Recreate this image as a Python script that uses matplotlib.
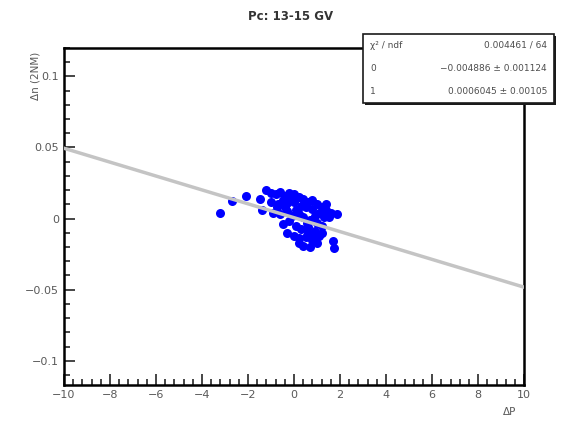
"""Pc 13-15 GV: delta n vs delta P with linear fit (ROOT-style panel)."""
import matplotlib.pyplot as plt
import numpy as np
from matplotlib.patches import Rectangle
from matplotlib.ticker import MultipleLocator

plt.rcParams.update({"font.family": "DejaVu Sans", "font.size": 8})

# data points
dp = [-1.2, -1.0, -0.8, -0.6, -0.4, -0.2, 0.0, 0.2, 0.4, 0.6, 0.8, 1.0, 1.2, 1.4, 1.6, 1.85,
      -1.0, -0.7, -0.5, -0.3, 0.0, 0.3, 0.5, 0.8, 1.1, 1.3,
      -0.9, -0.6, -0.3, -0.1, 0.2, 0.4, 0.7, 1.0, 1.2,
      -0.5, -0.2, 0.1, 0.3, 0.6, 0.9, 1.2,
      -0.3, 0.0, 0.2, 0.5, 0.8, 1.0, 0.4, 0.7, 1.7, 1.75,
      -1.4, -0.75, -2.1, -2.7, -3.2, -1.5,
      -0.1, 0.1, 0.5, 0.9, 1.5, -0.4, 0.6, 1.1, 0.2, 0.55, 0.85, 1.4]
dn = [0.020, 0.018, 0.017, 0.019, 0.016, 0.018, 0.017, 0.015, 0.014, 0.012, 0.013, 0.010, 0.008, 0.006, 0.004, 0.003,
      0.012, 0.010, 0.013, 0.011, 0.012, 0.009, 0.008, 0.007, 0.004, 0.001,
      0.004, 0.003, 0.005, 0.002, 0.003, 0.001, -0.001, -0.003, -0.005,
      -0.004, -0.002, -0.005, -0.007, -0.006, -0.009, -0.010,
      -0.010, -0.012, -0.014, -0.013, -0.015, -0.017, -0.019, -0.020, -0.016, -0.021,
      0.006, 0.008, 0.016, 0.0125, 0.004, 0.014,
      0.014, 0.006, 0.011, 0.002, 0.001, 0.008, -0.010, -0.012, -0.017, -0.003, -0.012, 0.010]

# fit results shown in the stat box
slope, slope_err = -0.004886, 0.001124
icpt, icpt_err = 0.0006045, 0.00105
stat_rows = [("χ² / ndf", "0.004461 / 64"),
             ("0", f"{slope:.6f} ± {slope_err}".replace("-", "−")),
             ("1", f"{icpt} ± {icpt_err}")]

fig = plt.figure(figsize=(5.71, 4.24), dpi=100)
ax = fig.add_axes([0.112, 0.092, 0.806, 0.795])

ax.plot(dp, dn, "o", color="#0000ff", ms=6.5, mec="none", zorder=2)
xf = np.array([-10, 10])
ax.plot(xf, slope * xf + icpt, color="#c4c4c4", lw=2.5, zorder=3)

ax.set_xlim(-10, 10)
ax.set_ylim(-0.117, 0.12)
ax.xaxis.set_major_locator(MultipleLocator(2))
ax.xaxis.set_minor_locator(MultipleLocator(0.4))
ax.yaxis.set_major_locator(MultipleLocator(0.05))
ax.yaxis.set_minor_locator(MultipleLocator(0.01))
ax.tick_params(which="both", direction="in", top=False, right=False, colors="0.15",
               labelcolor="0.35", labelsize=8, width=1.2)
ax.tick_params(which="major", length=8)
ax.tick_params(which="minor", length=4)
ax.set_yticks([-0.1, -0.05, 0, 0.05, 0.1])
ax.set_yticklabels(["−0.1", "−0.05", "0", "0.05", "0.1"])
ax.set_xticks(range(-10, 11, 2))
ax.set_xticklabels([str(v).replace("-", "−") for v in range(-10, 11, 2)])
for s in ax.spines.values():
    s.set_linewidth(1.8)

fig.text(0.508, 0.962, "Pc: 13-15 GV", ha="center", va="center", fontsize=8.5,
         fontweight="bold", color="0.2")
fig.text(0.062, 0.877, "Δn (2NM)", rotation=90, ha="center", va="top", fontsize=7.5, color="0.35")
fig.text(0.905, 0.028, "ΔP", ha="right", va="center", fontsize=7.5, color="0.35")

# stat box with shadow
bx, by, bw, bh = 0.636, 0.757, 0.334, 0.163
fig.patches.append(Rectangle((bx + 0.004, by - 0.005), bw, bh, transform=fig.transFigure,
                             facecolor="0.1", edgecolor="none", zorder=5))
fig.patches.append(Rectangle((bx, by), bw, bh, transform=fig.transFigure,
                             facecolor="white", edgecolor="0.1", lw=1.2, zorder=6))
for i, (name, val) in enumerate(stat_rows):
    yy = by + bh - (i + 0.5) * bh / 3
    fig.text(bx + 0.012, yy, name, ha="left", va="center", fontsize=6.5, color="0.3", zorder=7)
    fig.text(bx + bw - 0.012, yy, val, ha="right", va="center", fontsize=6.5, color="0.3", zorder=7)

fig.savefig("out.png", dpi=100)
